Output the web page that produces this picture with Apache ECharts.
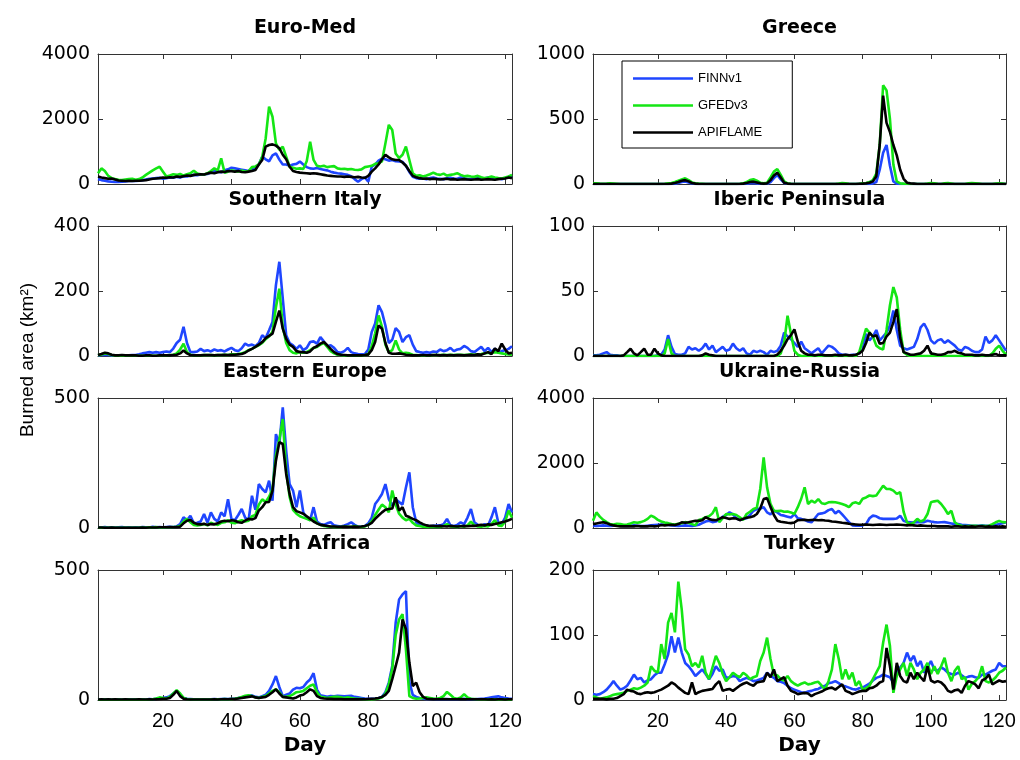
<!DOCTYPE html>
<html><head><meta charset="utf-8">
<script src="https://cdn.jsdelivr.net/npm/echarts@6/dist/echarts.min.js"></script>
<style>html,body{margin:0;padding:0;background:#fff}#c{width:1020px;height:760px}</style>
</head><body><div id="c"></div><script>
// ---------------- DATA (day 1..122) ----------------
const seriesNames = ['FINNv1', 'GFEDv3', 'APIFLAME'];
const dayTicks = [20, 40, 60, 80, 100, 120];

const euroMedFINN = [150,120,100,80,70,60,60,70,80,90, 100,90,100,120,140,160,170,180,190,160, 180,200,190,220,200,240,230,260,280,270, 290,300,310,350,400,380,360,420,450,500, 480,460,440,420,400,450,480,600,840,760, 700,880,940,750,600,600,560,600,620,690, 600,520,480,470,490,460,440,420,380,350, 330,320,300,280,240,150,70,150,200,70, 530,600,720,780,760,720,740,700,690,680, 560,370,220,180,160,170,150,180,200,170, 160,150,180,190,170,160,200,180,150,160, 180,200,150,170,200,180,160,170,150,180, 220,250];
const euroMedGFED = [330,480,400,250,180,150,130,120,140,150, 160,130,150,200,280,350,420,480,530,380, 230,260,300,280,310,260,300,330,410,320, 300,290,330,400,480,420,790,350,380,420, 400,380,420,380,400,520,540,600,840,1400, 2380,2070,1250,1050,1150,840,530,500,470,480, 460,700,1300,740,560,540,560,520,540,550, 480,460,470,450,460,440,430,450,520,540, 560,620,640,700,1250,1820,1660,940,800,900, 1150,740,330,250,270,230,260,300,350,300, 280,320,260,280,300,330,280,240,250,230, 220,250,210,180,200,230,200,180,170,200, 230,280];
const euroMedAPI = [230,200,180,160,170,140,110,100,90,100, 90,100,100,110,120,140,160,170,180,200, 190,210,200,230,220,240,260,250,280,290, 300,290,320,350,330,360,380,370,400,390, 380,400,370,360,380,400,430,600,740,1150, 1200,1220,1180,1100,900,760,530,400,370,350, 340,330,320,330,320,300,280,260,250,240, 230,230,220,230,220,210,220,200,190,250, 380,480,600,760,900,820,760,740,740,660, 560,400,250,210,180,160,170,150,160,150, 140,150,160,140,150,130,140,150,140,130, 140,150,130,140,150,140,130,150,160,170, 200,180];

const greeceFINN = [0,0,0,0,0,0,0,0,0,0, 0,0,0,0,0,0,0,0,0,0, 0,0,0,0,3,8,15,20,12,4, 1,0,0,0,0,0,0,0,0,0, 0,0,0,0,0,3,6,8,5,2, 0,2,15,45,69,35,8,2,0,0, 0,0,0,0,0,0,0,0,0,0, 0,0,0,0,0,0,0,0,0,0, 0,0,5,15,110,240,300,140,20,3, 0,0,0,0,0,0,0,0,0,0, 0,0,0,0,0,0,0,0,0,0, 0,0,0,0,0,0,0,0,0,0, 0,0];
const greeceGFED = [5,5,3,2,3,5,4,2,0,0, 0,0,0,0,0,0,0,0,0,0, 0,2,5,8,15,25,35,44,30,12, 5,3,2,0,0,0,0,0,0,0, 0,0,0,2,5,15,30,36,25,10, 5,10,50,95,115,70,20,5,2,0, 0,0,0,0,0,0,0,0,0,0, 0,0,3,8,5,2,0,0,2,5, 8,15,30,80,300,760,720,500,150,20, 5,3,2,0,0,0,0,0,3,8, 5,2,0,5,8,4,0,0,0,0, 5,7,5,3,0,0,0,0,3,5, 3,0];
const greeceAPI = [0,0,0,0,0,0,0,0,0,0, 0,0,0,0,0,0,0,0,0,0, 0,0,0,3,8,15,25,30,20,8, 3,0,0,0,0,0,0,0,0,0, 0,0,0,0,3,8,15,18,12,5, 3,5,30,65,87,50,10,3,0,0, 0,0,0,0,0,0,0,0,0,0, 0,0,0,0,0,0,0,0,2,3, 5,10,20,60,300,680,470,400,300,220, 110,40,10,5,3,0,0,0,0,0, 0,0,0,0,0,0,0,0,0,0, 0,0,0,0,0,0,0,0,0,0, 0,0];

const sItalyFINN = [2,3,4,3,2,1,1,2,2,2, 3,3,5,8,10,12,10,12,10,12, 14,12,23,40,50,90,40,12,12,14, 22,15,18,14,20,16,18,14,20,25, 18,15,24,38,32,35,30,40,64,55, 79,105,218,290,177,64,40,33,22,33, 18,25,43,45,38,58,45,30,33,25, 12,10,15,25,12,8,6,5,6,20, 74,100,156,135,94,40,50,86,74,43, 58,64,35,15,12,10,12,10,14,12, 20,15,18,25,15,20,22,31,25,15, 12,20,28,15,25,12,23,10,15,18, 22,30];
const sItalyGFED = [2,5,8,6,3,1,1,2,1,1, 1,1,1,1,1,2,1,1,2,2, 2,3,4,8,20,38,12,4,2,2, 2,3,3,3,2,3,3,4,3,5, 5,6,8,12,18,22,28,33,40,52, 60,75,150,207,90,40,18,10,8,12, 10,12,18,25,28,35,40,28,15,8, 4,3,2,2,2,2,2,2,3,5, 30,70,125,90,35,12,18,48,20,8, 10,8,4,3,2,2,2,2,3,3, 3,4,3,4,3,4,4,3,4,5, 4,5,6,8,10,8,12,10,8,6, 5,4];
const sItalyAPI = [3,6,10,8,4,2,2,3,2,2, 2,2,1,1,2,2,1,1,2,2, 2,2,3,4,8,17,8,3,2,2, 2,3,3,3,2,3,3,4,3,4, 4,5,6,10,17,22,28,35,43,55, 62,69,105,140,84,53,35,28,15,12, 12,10,14,25,30,38,43,33,22,12, 6,4,3,2,2,2,2,2,3,5, 18,43,94,84,40,10,7,7,8,6, 4,3,2,2,2,3,2,2,3,3, 2,3,2,3,2,3,3,2,3,4, 3,5,4,8,12,6,23,15,38,20, 8,10];

const ibericFINN = [0.5,0.5,1,2,3,1,0.5,0.5,0,0, 0,0,0,0,0,0,0,0,0,0.5, 1,5,16,7,1.5,1,1,2,7,5, 6,4,6,9.5,5,8,3,5,7,4, 5,9.5,6,4,6,2,1,4,3,4, 3,1,4,3,4,8,18,15,13,10, 7,11,6,4,2,4,6,2,5,8, 7,5,2,1,1,0.5,1,1,2,5, 17,12,15,20,12,15,18,23.5,35,20, 8,6,5,6,7,13,22,25,20,12, 9.5,12,13,10,12,10,8,5,4,7, 6,4,3,3,5,15,10,12,16,12, 8,4];
const ibericGFED = [0,0,0,0,0,0,0,0,0,0, 0,0,0,0,0,0,0,0,0,0, 0,2,13,2,0,0,0,0,0,0, 0,0,0,0,0,0,0,0,0,0, 0,0,0,0,0,0,0,0,0,0, 0,0,0,0,0,2,10,31,17,4, 1,0,0,0,0,0,0,0,0,0, 0,0,0,0,0,0,0,0,3,12, 21,18,15,8,6,5,20,39,53,45, 20,3,1,0,0,0,0,0,0,0, 0,0,0,0,0,0,0,0,0,0, 0,0,0,0,0,0,0,2,5.6,8, 4,1];
const ibericAPI = [0,0,0,0,0,0,0,0,0,0.5, 3,5.6,2,0.5,3,5.6,1,1,5.6,2, 0.5,0,0,0,0,0,0,0,0,0, 0,0,0.5,2,1,0.5,0,0,0,0, 0,0,0,0,0,0,0,0,0,0, 0,0,0,0,1,4,8,13,16,20.5, 11,4,2,1,1,0.5,1,1,0.5,0.5, 0.5,1,0.5,0.5,1,0.5,0.5,1,2,4, 10,18,15,16,9.5,10,15,18,26,36, 14,3,2,1,1,1.5,2,4,8,2, 1.5,1,1,1.5,3,3,4,2.5,2,1, 1,1,0.5,0.5,1,0.5,0.5,1,1.5,0.5, 0.5,0.5];

const eEuropeFINN = [3,2,4,2,3,2,3,4,2,3, 2,3,2,4,3,2,5,3,4,3, 4,5,4,6,15,41,30,47,18,20, 25,54,20,60,35,25,60,45,111,35, 30,50,73,40,30,124,70,169,150,137, 182,105,361,323,464,297,169,144,80,144, 60,40,30,80,25,15,12,18,22,10, 8,6,10,15,22,12,5,6,8,18, 40,92,110,131,169,111,86,110,100,90, 156,214,80,22,12,8,10,7,8,9, 10,15,35,10,8,12,22,15,40,73, 22,12,8,15,10,41,80,20,15,40, 92,60];
const eEuropeGFED = [1,1,1,1,1,1,1,1,1,1, 1,1,1,2,1,3,2,4,2,2, 3,3,4,5,8,25,35,22,12,10, 12,15,10,20,15,12,20,22,30,20, 18,25,30,25,28,45,50,90,110,100, 120,150,280,340,419,220,120,70,55,45, 40,35,30,40,18,12,8,6,5,4, 4,4,6,5,4,8,5,4,6,12, 25,50,70,90,80,60,144,90,55,40, 30,35,20,10,8,5,4,4,5,4, 4,8,15,6,5,4,8,5,10,25, 10,6,5,8,6,15,30,10,8,25, 67,40];
const eEuropeAPI = [2,2,1,1,2,1,1,1,1,1, 1,1,1,2,1,2,2,2,3,3, 3,4,3,4,5,18,28,31,20,15, 14,16,12,15,14,18,25,28,26,30, 28,22,20,28,35,33,38,67,80,99, 100,144,259,330,323,208,131,80,65,60, 55,45,35,25,18,12,10,8,6,6, 5,5,6,5,5,6,5,6,8,12, 20,35,48,60,70,73,75,118,67,80, 47,42,35,30,22,15,10,8,8,7, 8,7,6,8,7,6,7,8,7,8, 8,10,12,10,14,12,15,18,22,25, 30,35];

const ukrRusFINN = [70,60,70,80,70,60,70,80,70,60, 60,70,80,70,60,60,70,80,90,100, 110,100,90,80,70,60,70,80,70,60, 80,100,150,200,225,180,200,250,350,400, 480,420,300,250,280,300,400,530,585,600, 640,480,420,530,480,400,380,350,320,430, 300,280,250,200,175,300,430,450,480,550, 585,450,530,420,300,175,80,70,70,80, 120,300,380,360,300,280,280,280,280,290, 380,220,180,175,170,180,175,180,225,200, 180,170,175,180,160,140,120,120,100,90, 80,70,70,70,80,70,70,80,90,120, 150,175];
const ukrRusGFED = [225,480,350,250,180,120,110,130,120,100, 110,140,175,160,180,220,280,380,330,250, 200,170,150,120,110,130,150,180,160,120, 80,250,280,330,360,450,640,180,300,430, 420,430,400,330,250,430,500,585,620,1200, 2175,1250,740,530,520,530,500,510,480,430, 640,900,1250,740,840,780,890,760,740,790, 800,790,770,740,700,640,760,790,740,900, 940,1000,980,1000,1150,1300,1200,1200,1150,1050, 1100,500,175,120,170,280,200,250,430,790, 820,840,740,600,430,530,175,100,70,60, 60,70,70,60,70,60,70,120,175,220, 180,175];
const ukrRusAPI = [120,140,160,175,150,110,80,60,50,50, 50,50,50,60,50,50,50,60,50,60, 90,80,90,100,90,120,175,160,175,200, 225,220,240,330,280,250,240,280,330,310, 280,300,290,240,280,320,330,360,430,600, 890,920,650,400,225,190,175,160,150,170, 240,245,250,240,245,250,240,245,230,225, 200,190,175,160,150,130,120,110,100,100, 110,100,90,100,110,100,90,100,100,110, 100,90,80,90,80,70,80,70,60,60, 60,50,50,50,50,40,50,50,40,50, 40,50,40,50,50,40,50,40,50,40, 50,40];

const nAfricaFINN = [2,1,3,2,1,2,3,1,2,3, 2,3,2,3,2,4,3,5,6,8, 10,15,25,35,20,8,5,4,3,3, 2,3,2,3,4,3,4,5,4,5, 6,8,10,12,15,18,12,10,15,20, 35,60,92,50,15,20,25,40,47,45, 50,67,79,103,40,18,15,12,15,14, 16,15,14,15,16,12,10,8,6,5, 5,6,8,12,30,67,131,297,387,406, 419,70,20,12,8,5,4,5,4,3, 4,3,4,3,4,3,4,5,3,4, 3,4,5,6,8,10,12,14,10,8, 6,5];
const nAfricaGFED = [1,1,2,1,1,1,2,1,1,2, 1,2,1,2,1,2,3,6,10,8, 6,12,25,38,25,8,4,3,2,2, 2,2,2,2,3,3,3,4,3,4, 5,8,12,16,18,15,10,8,12,15, 25,35,41,30,12,12,15,22,30,32, 35,45,55,60,30,12,10,8,10,12, 12,10,8,10,8,6,5,4,3,3, 3,4,6,10,25,60,120,250,310,330, 195,15,8,5,6,8,10,8,6,5, 8,15,31,20,8,5,10,22,10,5, 4,3,3,3,2,3,3,2,3,3, 2,2];
const nAfricaAPI = [2,3,2,3,2,3,2,2,3,2, 2,2,3,2,2,3,2,3,4,5, 5,8,20,35,15,5,3,2,2,2, 2,2,2,2,3,2,3,3,3,4, 4,6,8,10,12,14,10,8,10,12, 20,30,41,25,12,10,8,6,10,17, 20,30,41,35,15,8,6,5,5,4, 4,4,3,3,3,3,3,3,3,4, 5,6,8,12,20,35,80,130,182,310, 272,144,54,67,30,12,5,4,3,3, 3,4,3,3,3,3,4,3,3,3, 3,3,3,3,2,3,2,3,3,2, 3,3];

const turkeyFINN = [9,8,9,12,16,22,29,22,16,18, 22,30,39,32,34,27,30,32,38,42, 42,55,70,98,73,96,73,57,52,45, 37,42,47,40,32,40,52,45,47,34, 35,37,36,29,32,34,32,29,30,32, 34,42,37,34,29,28,26,22,18,16, 14,12,11,13,14,16,17,20,22,26, 27,29,26,22,21,19,17,16,18,19, 22,25,30,34,36,39,37,35,27,42, 50,57,73,60,68,52,60,42,50,60, 47,45,50,47,42,40,39,42,38,34, 36,37,35,34,39,39,42,45,47,57, 52,52];
const turkeyGFED = [6,4,2,3,4,6,8,9,10,11, 14,16,18,17,19,22,27,52,45,42, 86,63,119,134,104,182,139,78,70,52, 57,50,68,42,32,50,68,57,40,29, 35,42,38,35,42,38,32,35,37,60, 73,96,63,38,38,32,30,37,29,25, 22,25,27,24,25,27,28,22,16,29, 47,86,63,32,47,32,42,22,29,16, 18,22,32,42,52,88,116,83,11,37, 47,57,37,57,47,32,42,47,57,40, 52,40,52,65,42,29,45,52,32,35, 16,25,29,35,52,29,27,30,35,42, 45,50];
const turkeyAPI = [2,2,2,2,1,2,2,3,6,9, 16,14,13,10,9,11,12,11,12,14, 16,19,22,27,24,19,15,11,9,27, 9,12,14,15,16,17,24,29,14,16, 17,14,18,22,25,27,24,22,27,28, 29,42,35,47,29,32,35,22,14,12, 9,10,11,10,6,9,11,13,16,18, 19,16,20,24,14,12,9,11,13,14, 14,18,19,22,27,29,80,52,16,57, 37,29,27,42,32,42,35,29,52,30, 27,29,27,22,14,12,15,16,11,22, 29,27,24,18,30,33,39,24,27,30, 28,29];

const panelTitles = ['Euro-Med', 'Greece', 'Southern Italy', 'Iberic Peninsula', 'Eastern Europe', 'Ukraine-Russia', 'North Africa', 'Turkey'];
const panelData = [
  [euroMedFINN, euroMedGFED, euroMedAPI],
  [greeceFINN, greeceGFED, greeceAPI],
  [sItalyFINN, sItalyGFED, sItalyAPI],
  [ibericFINN, ibericGFED, ibericAPI],
  [eEuropeFINN, eEuropeGFED, eEuropeAPI],
  [ukrRusFINN, ukrRusGFED, ukrRusAPI],
  [nAfricaFINN, nAfricaGFED, nAfricaAPI],
  [turkeyFINN, turkeyGFED, turkeyAPI]
];
const yMaxes = [4000, 1000, 400, 100, 500, 4000, 500, 200];
const ySteps = [2000, 500, 200, 50, 500, 2000, 500, 100];

// ---------------- LAYOUT / STYLE ----------------
const colors = ['#1f46ff', '#14e614', '#000000'];
const colLeft = [98, 593], colWidth = [414, 413];
const rowTop = [54, 226, 398, 570], rowH = 130;
const axisColor = '#333';
const tickFont = 'Liberation Sans';

const grids = [], xAxes = [], yAxes = [], series = [], graphics = [];
panelTitles.forEach((title, i) => {
  const col = i % 2, row = Math.floor(i / 2);
  grids.push({left: colLeft[col], top: rowTop[row], width: colWidth[col], height: rowH, containLabel: false});
  const tickStyle = {inside: true, length: 5, lineStyle: {color: axisColor, width: 1}};
  xAxes.push({
    gridIndex: i, type: 'value', min: 1, max: 122, position: 'bottom',
    axisLine: {show: true, onZero: false, lineStyle: {color: axisColor, width: 1}},
    axisTick: Object.assign({customValues: dayTicks}, tickStyle),
    axisLabel: row === 3 ? {show: true, customValues: dayTicks, fontSize: 20, fontFamily: tickFont, color: '#000', margin: 11, formatter: v => String(v)} : {show: false},
    splitLine: {show: false}
  });
  xAxes.push({
    gridIndex: i, type: 'value', min: 1, max: 122, position: 'top',
    axisLine: {show: true, onZero: false, lineStyle: {color: axisColor, width: 1}},
    axisTick: Object.assign({customValues: dayTicks}, tickStyle),
    axisLabel: {show: false}, splitLine: {show: false}
  });
  yAxes.push({
    gridIndex: i, type: 'value', min: 0, max: yMaxes[i], interval: ySteps[i], position: 'left',
    axisLine: {show: true, onZero: false, lineStyle: {color: axisColor, width: 1}},
    axisTick: tickStyle,
    axisLabel: {show: true, fontSize: 19, fontFamily: 'DejaVu Sans', color: '#000', margin: 8, formatter: v => String(v)},
    splitLine: {show: false}
  });
  yAxes.push({
    gridIndex: i, type: 'value', min: 0, max: yMaxes[i], interval: ySteps[i], position: 'right',
    axisLine: {show: true, onZero: false, lineStyle: {color: axisColor, width: 1}},
    axisTick: tickStyle, axisLabel: {show: false}, splitLine: {show: false}
  });
  panelData[i].forEach((arr, s) => {
    series.push({
      name: seriesNames[s], type: 'line', xAxisIndex: 2 * i, yAxisIndex: 2 * i,
      data: arr.map((v, k) => [k + 1, v]),
      showSymbol: false, symbol: 'none', silent: true,
      lineStyle: {color: colors[s], width: 2.6}, itemStyle: {color: colors[s]},
      z: 2 + s
    });
  });
  graphics.push({
    type: 'text', x: colLeft[col] + colWidth[col] / 2, y: rowTop[row] - 26,
    style: {text: title, font: 'bold 19px "DejaVu Sans"', fill: '#000', textAlign: 'center', textVerticalAlign: 'middle', align: 'center', verticalAlign: 'middle'}
  });
  if (row === 3) {
    graphics.push({
      type: 'text', x: colLeft[col] + colWidth[col] / 2, y: 746,
      style: {text: 'Day', font: 'bold 20px "DejaVu Sans"', fill: '#000', textAlign: 'center', textVerticalAlign: 'middle', align: 'center', verticalAlign: 'middle'}
    });
  }
});
graphics.push({
  type: 'text', x: 28, y: 360, rotation: Math.PI / 2,
  style: {text: 'Burned area (km²)', font: '19px "Liberation Sans"', fill: '#000', textAlign: 'center', textVerticalAlign: 'middle', align: 'center', verticalAlign: 'middle'}
});

const chart = echarts.init(document.getElementById('c'), null, {renderer: 'canvas'});
chart.setOption({
  animation: false,
  backgroundColor: '#fff',
  grid: grids, xAxis: xAxes, yAxis: yAxes, series: series,
  legend: {
    data: seriesNames, orient: 'vertical', left: 622, top: 61,
    backgroundColor: '#fff', borderColor: '#000', borderWidth: 1,
    padding: [11, 30, 9, 11], itemGap: 14, itemWidth: 60, itemHeight: 2.5, icon: 'rect',
    textStyle: {fontSize: 13, fontFamily: 'Liberation Sans', color: '#000'},
    selectedMode: false, z: 10
  },
  graphic: graphics
});
</script></body></html>
